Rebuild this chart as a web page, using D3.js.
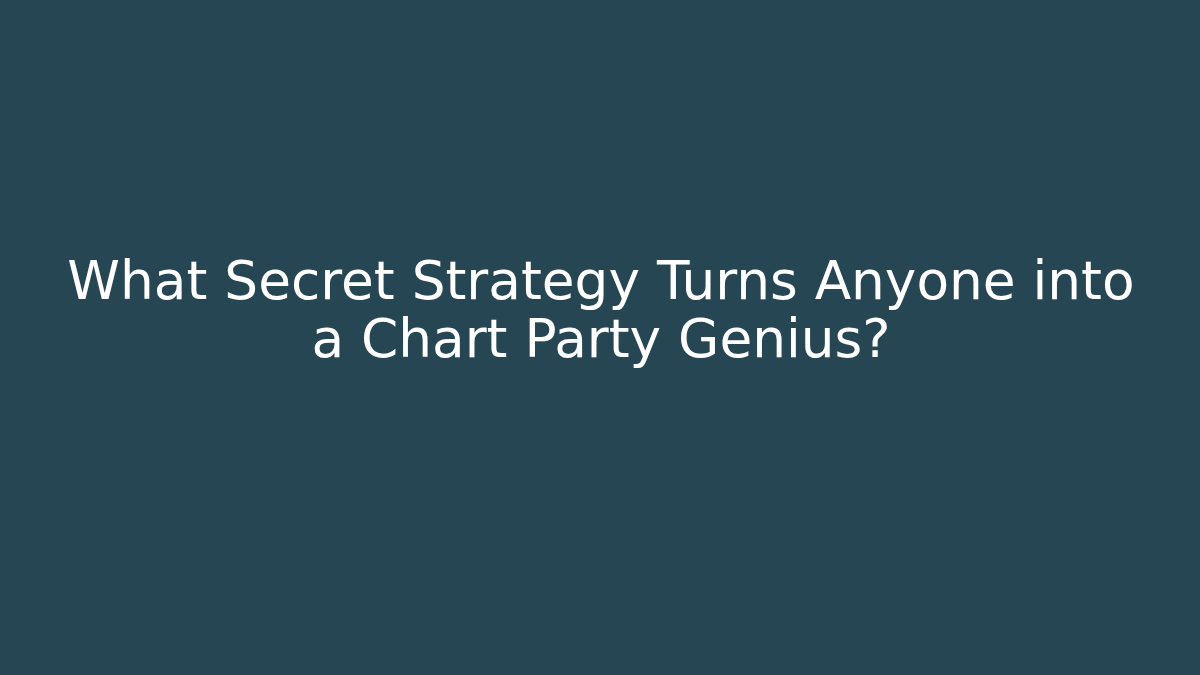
<!DOCTYPE html>
<html>
<head>
<meta charset="utf-8">
<script src="https://cdn.jsdelivr.net/npm/d3@7"></script>
<style>
html,body{margin:0;padding:0;background:#264653;}
svg{display:block;}
</style>
</head>
<body>
<script>
const titleLines = ["What Secret Strategy Turns Anyone into", "a Chart Party Genius?"];
const W = 1200, H = 675;
const svg = d3.select("body").append("svg").attr("width", W).attr("height", H);
svg.append("rect").attr("width", W).attr("height", H).attr("fill", "#264653");
const y = d3.scalePoint().domain(d3.range(titleLines.length)).range([299, 357]);
svg.selectAll("text.title").data(titleLines).join("text")
  .attr("class", "title")
  .attr("x", W / 2 + 1)
  .attr("y", (d, i) => y(i))
  .attr("text-anchor", "middle")
  .attr("fill", "#ffffff")
  .style("font-family", "'DejaVu Sans', sans-serif")
  .style("font-size", "53.3px")
  .text(d => d);
</script>
</body>
</html>
